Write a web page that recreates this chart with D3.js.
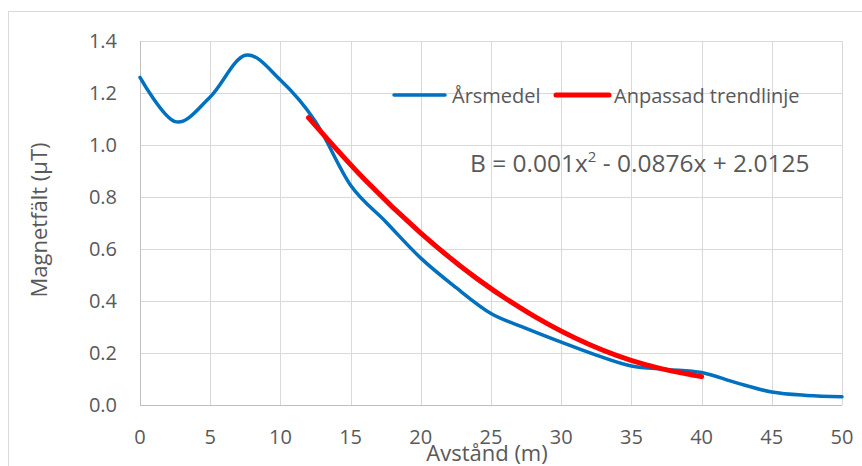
<!DOCTYPE html>
<html>
<head>
<meta charset="utf-8">
<script src="https://cdn.jsdelivr.net/npm/d3@7"></script>
<style>
  body { margin: 0; background: #fff; }
  svg { display: block; font-family: 'Open Sans', sans-serif; }
  .grid line { stroke: #d9d9d9; stroke-width: 1; }
  .tick-label { fill: #595959; font-size: 20px; }
  .title { fill: #595959; font-size: 22px; }
</style>
</head>
<body>
<div id="chart"></div>
<script>
var width = 862;
var height = 466;
var margin = { top: 41, right: 20, bottom: 61, left: 140 };

// Årsmedel (distance in m, field in µT)
var distance = [0, 2.5, 5, 7.5, 10, 12.5, 15, 17.5, 20, 22.5, 25, 27.5, 30, 32.5, 35, 37.5, 40, 42.5, 45, 47.5, 50];
var field = [1.26, 1.09, 1.185, 1.345, 1.25, 1.09, 0.845, 0.705, 0.565, 0.452, 0.352, 0.295, 0.242, 0.192, 0.15, 0.137, 0.125, 0.085, 0.05, 0.037, 0.032];

// fitted trend line
var trendX = [12, 16, 20, 24, 28, 32, 36, 40];
var trendY = [1.105, 0.867, 0.661, 0.486, 0.344, 0.233, 0.155, 0.109];

var xTicks = [0, 5, 10, 15, 20, 25, 30, 35, 40, 45, 50];
var yTicks = [0, 0.2, 0.4, 0.6, 0.8, 1.0, 1.2, 1.4];
var seriesNames = ['Årsmedel', 'Anpassad trendlinje'];
var seriesColors = ['#0070c0', '#ff0000'];

var svg = d3.select('#chart').append('svg')
  .attr('width', width)
  .attr('height', height);

// chart border
svg.append('rect')
  .attr('x', 8.5)
  .attr('y', 11.5)
  .attr('width', 900)
  .attr('height', 500)
  .attr('fill', 'none')
  .attr('stroke', '#d9d9d9');

var x = d3.scaleLinear().domain([0, 50]).range([margin.left, width - margin.right]);
var y = d3.scaleLinear().domain([0, 1.4]).range([height - margin.bottom, margin.top]);

var grid = svg.append('g').attr('class', 'grid');

grid.selectAll('.hline')
  .data(yTicks)
  .enter().append('line')
  .attr('x1', x(0))
  .attr('x2', x(50))
  .attr('y1', function(d) { return Math.round(y(d)) + 0.5; })
  .attr('y2', function(d) { return Math.round(y(d)) + 0.5; });

grid.selectAll('.vline')
  .data(xTicks)
  .enter().append('line')
  .attr('y1', y(0))
  .attr('y2', y(1.4))
  .attr('x1', function(d) { return Math.round(x(d)) + 0.5; })
  .attr('x2', function(d) { return Math.round(x(d)) + 0.5; });

// axis lines a bit darker
svg.append('line')
  .attr('x1', x(0)).attr('x2', x(50))
  .attr('y1', Math.round(y(0)) + 0.5).attr('y2', Math.round(y(0)) + 0.5)
  .attr('stroke', '#bfbfbf');
svg.append('line')
  .attr('x1', Math.round(x(0)) + 0.5).attr('x2', Math.round(x(0)) + 0.5)
  .attr('y1', y(0)).attr('y2', y(1.4))
  .attr('stroke', '#bfbfbf');

// tick labels
svg.selectAll('.ylab')
  .data(yTicks)
  .enter().append('text')
  .attr('class', 'tick-label')
  .attr('x', 117)
  .attr('y', function(d) { return y(d); })
  .attr('dy', '0.33em')
  .attr('text-anchor', 'end')
  .text(function(d) { return d3.format('.1f')(d); });

svg.selectAll('.xlab')
  .data(xTicks)
  .enter().append('text')
  .attr('class', 'tick-label')
  .attr('x', function(d) { return x(d); })
  .attr('y', 444)
  .attr('text-anchor', 'middle')
  .text(function(d) { return d; });

// axis titles
svg.append('text')
  .attr('class', 'title')
  .attr('transform', 'translate(47,220) rotate(-90)')
  .attr('text-anchor', 'middle')
  .text('Magnetfält (µT)');

svg.append('text')
  .attr('class', 'title')
  .attr('x', 487)
  .attr('y', 461)
  .attr('text-anchor', 'middle')
  .text('Avstånd (m)');

// lines
var line = d3.line()
  .x(function(d) { return x(d[0]); })
  .y(function(d) { return y(d[1]); })
  .curve(d3.curveCatmullRom.alpha(0));

svg.append('path')
  .datum(d3.zip(distance, field))
  .attr('d', line)
  .attr('fill', 'none')
  .attr('stroke', seriesColors[0])
  .attr('stroke-width', 3.5)
  .attr('stroke-linecap', 'round');

svg.append('path')
  .datum(d3.zip(trendX, trendY))
  .attr('d', line)
  .attr('fill', 'none')
  .attr('stroke', seriesColors[1])
  .attr('stroke-width', 5)
  .attr('stroke-linecap', 'round');

// legend
var legendX = [394, 556];
var legend = svg.append('g')
  .selectAll('g')
  .data(seriesNames)
  .enter().append('g')
  .attr('transform', function(d, i) { return 'translate(' + legendX[i] + ',95)'; });

legend.append('line')
  .attr('x1', 0)
  .attr('x2', function(d, i) { return i === 0 ? 51 : 53; })
  .attr('stroke', function(d, i) { return seriesColors[i]; })
  .attr('stroke-width', function(d, i) { return i === 0 ? 3.5 : 5; })
  .attr('stroke-linecap', 'round');

legend.append('text')
  .attr('class', 'tick-label')
  .attr('x', 58)
  .attr('y', 8)
  .text(function(d) { return d; });

// equation
var eq = svg.append('text')
  .attr('class', 'title')
  .attr('x', 470)
  .attr('y', 172)
  .style('font-size', '24.5px');
eq.append('tspan').text('B = 0.001x');
eq.append('tspan').attr('dy', -10).style('font-size', '15px').text('2');
eq.append('tspan').attr('dy', 10).text(' - 0.0876x + 2.0125');
</script>
</body>
</html>
